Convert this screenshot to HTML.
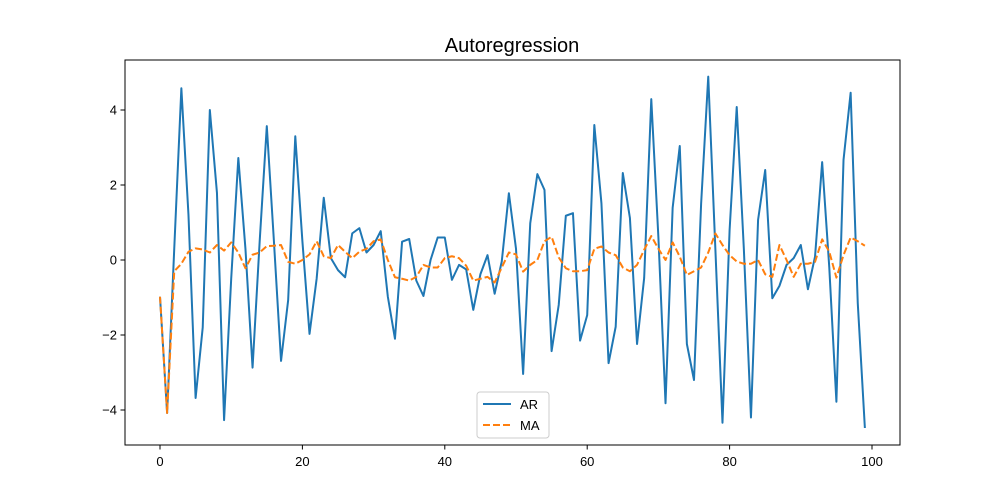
<!DOCTYPE html>
<html><head><meta charset="utf-8"><style>
html,body{margin:0;padding:0;background:#fff;}
svg{display:block;font-family:"Liberation Sans","DejaVu Sans",sans-serif;}
</style></head><body>
<svg id="chart" width="1000" height="500">
<rect width="1000" height="500" fill="#fff"/>
<text x="512" y="52" text-anchor="middle" font-size="20" fill="#000">Autoregression</text>
<g id="plot"></g>
<rect x="125" y="60" width="775" height="385" fill="none" stroke="#000" stroke-width="1"/>
<g id="xticks"></g><g id="yticks"></g>
<g>
<rect x="477" y="392" width="72" height="46" rx="3" fill="#fff" fill-opacity="0.8" stroke="#ccc"/>
<g>
<line x1="483" y1="404" x2="511" y2="404" stroke="#1f77b4" stroke-width="2"/>
<text x="520" y="409" font-size="13">AR</text></g>
<g>
<line x1="483" y1="425" x2="511" y2="425" stroke="#ff7f0e" stroke-width="2" stroke-dasharray="7,3"/>
<text x="520" y="430" font-size="13">MA</text></g>
</g>
</svg>
<script>
const arValues=[-0.98,-4.08,0.3,4.58,1.2,-3.68,-1.8,4.0,1.79,-4.27,-0.5,2.72,0.3,-2.87,0.5,3.57,0.5,-2.69,-1.07,3.3,0.5,-1.97,-0.5,1.66,0.05,-0.27,-0.46,0.71,0.85,0.2,0.4,0.77,-0.98,-2.1,0.49,0.56,-0.55,-0.96,0.0,0.6,0.6,-0.53,-0.13,-0.25,-1.33,-0.38,0.13,-0.9,-0.04,1.78,0.3,-3.04,0.98,2.29,1.87,-2.43,-1.2,1.18,1.25,-2.15,-1.47,3.6,1.51,-2.75,-1.78,2.32,1.12,-2.24,-0.48,4.29,0.6,-3.82,1.39,3.04,-2.24,-3.2,1.5,4.89,0.3,-4.34,0.8,4.08,0.3,-4.2,1.07,2.4,-1.02,-0.69,-0.13,0.05,0.4,-0.78,0.09,2.61,-0.2,-3.78,2.67,4.46,-1.15,-4.48];
const maValues=[-0.98,-4.08,-0.3,-0.1,0.22,0.31,0.28,0.2,0.4,0.25,0.47,0.2,-0.22,0.14,0.2,0.37,0.38,0.4,-0.05,-0.1,0.0,0.15,0.5,0.1,0.05,0.4,0.22,0.05,0.22,0.3,0.5,0.55,0.0,-0.46,-0.5,-0.55,-0.45,-0.13,-0.2,-0.2,0.05,0.1,0.05,-0.15,-0.55,-0.5,-0.45,-0.6,-0.2,0.2,0.15,-0.31,-0.13,0.0,0.5,0.62,0.07,-0.22,-0.3,-0.3,-0.27,0.3,0.36,0.2,0.13,-0.2,-0.3,-0.13,0.27,0.64,0.3,0.0,0.47,0.09,-0.4,-0.3,-0.2,0.2,0.71,0.4,0.13,-0.04,-0.1,-0.1,0.0,-0.38,-0.45,0.4,0.0,-0.45,-0.1,-0.1,-0.05,0.55,0.22,-0.47,0.13,0.6,0.5,0.38];
const xTickLabels=[0,20,40,60,80,100];
const yTickLabels=[-4,-2,0,2,4];
const NS='http://www.w3.org/2000/svg';
function xs(i){return 160+i*7.12;}
function ys(v){return 260-v*37.5;}
function mk(tag,attrs,parent){const e=document.createElementNS(NS,tag);for(const k in attrs)e.setAttribute(k,attrs[k]);parent.appendChild(e);return e;}
const plot=document.getElementById('plot');
function series(vals,color,dash,name){
  const d=vals.map((v,i)=>(i?'L':'M')+xs(i).toFixed(2)+','+ys(v).toFixed(2)).join('');
  const p=mk('path',{d:d,fill:'none',stroke:color,'stroke-width':2,'stroke-linejoin':'round'},plot);
  if(dash)p.setAttribute('stroke-dasharray',dash);
  
  
}
series(arValues,'#1f77b4',null,'ar-line');
series(maValues,'#ff7f0e','7,3','ma-line');
const xt=document.getElementById('xticks');
xTickLabels.forEach(t=>{
  const g=mk('g',{},xt);
  
  
  mk('line',{x1:xs(t),x2:xs(t),y1:445,y2:449.5,stroke:'#000'},g);
  const tx=mk('text',{x:xs(t),y:466,'text-anchor':'middle','font-size':13},g);tx.textContent=t;
});
const yt=document.getElementById('yticks');
yTickLabels.forEach(t=>{
  const g=mk('g',{},yt);
  
  
  mk('line',{x1:120.5,x2:125,y1:ys(t),y2:ys(t),stroke:'#000'},g);
  const tx=mk('text',{x:117,y:ys(t)+4.5,'text-anchor':'end','font-size':13},g);tx.textContent=t<0?'\u2212'+(-t):t;
});
</script>
</body></html>
